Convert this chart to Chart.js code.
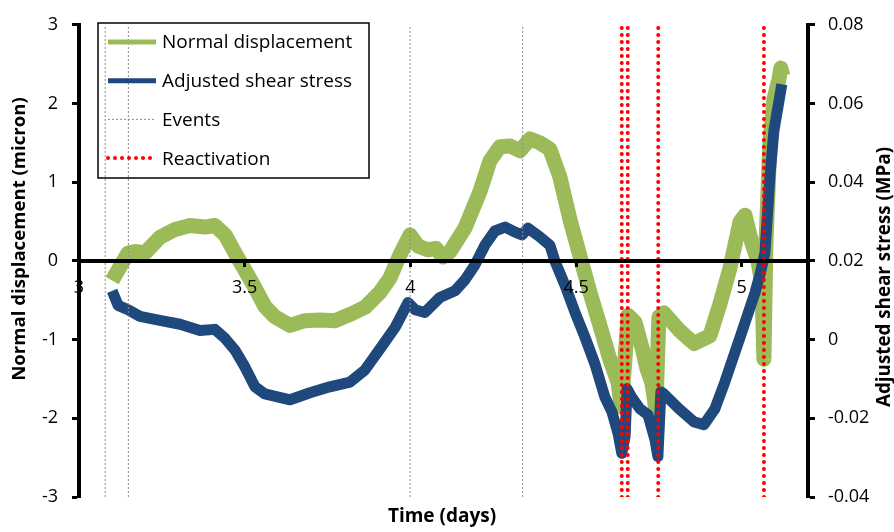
<!DOCTYPE html>
<html>
<head>
<meta charset="utf-8">
<script src="https://cdn.jsdelivr.net/npm/chart.js@4.4.1/dist/chart.umd.min.js"></script>
<style>
  html, body { margin: 0; padding: 0; background: #fff; }
</style>
</head>
<body>
<canvas id="chart" width="894" height="532"></canvas>
<script>
// Normal displacement (micron), left axis
const normalTime = [3.100, 3.130, 3.148, 3.169, 3.199, 3.244, 3.290, 3.335, 3.380, 3.410,
    3.441, 3.471, 3.501, 3.531, 3.561, 3.591, 3.637, 3.682, 3.727, 3.773,
    3.818, 3.863, 3.908, 3.938, 3.969, 3.999, 4.023, 4.053, 4.077, 4.098,
    4.120, 4.165, 4.210, 4.240, 4.270, 4.301, 4.331, 4.361, 4.391, 4.421,
    4.451, 4.482, 4.512, 4.542, 4.572, 4.602, 4.627, 4.636, 4.645, 4.657,
    4.678, 4.699, 4.714, 4.729, 4.741, 4.750, 4.765, 4.811, 4.856, 4.904,
    4.934, 4.964, 4.995, 5.010, 5.031, 5.049, 5.061, 5.067, 5.073, 5.085,
    5.097, 5.112, 5.118, 5.124];
const normalDisp = [-0.25, -0.03, 0.10, 0.12, 0.10, 0.30, 0.40, 0.45, 0.43, 0.45,
    0.33, 0.10, -0.12, -0.34, -0.58, -0.71, -0.82, -0.76, -0.75, -0.76,
    -0.68, -0.59, -0.40, -0.22, 0.08, 0.33, 0.19, 0.14, 0.16, 0.05,
    0.12, 0.42, 0.88, 1.27, 1.45, 1.46, 1.40, 1.55, 1.50, 1.42,
    1.07, 0.52, 0.06, -0.40, -0.82, -1.25, -1.55, -1.85, -1.40, -0.69,
    -0.78, -1.10, -1.37, -1.55, -1.89, -0.71, -0.66, -0.88, -1.05, -0.95,
    -0.55, -0.10, 0.50, 0.58, 0.22, 0.00, -0.30, -1.25, 0.20, 1.50,
    2.05, 2.30, 2.45, 2.35];

// Adjusted shear stress (MPa), right axis
const shearTime = [3.100, 3.118, 3.148, 3.184, 3.244, 3.305, 3.365, 3.410, 3.441, 3.471,
    3.501, 3.531, 3.561, 3.637, 3.697, 3.757, 3.818, 3.863, 3.908, 3.954,
    3.993, 4.014, 4.044, 4.089, 4.135, 4.165, 4.195, 4.225, 4.255, 4.286,
    4.316, 4.337, 4.355, 4.391, 4.421, 4.436, 4.467, 4.497, 4.527, 4.557,
    4.587, 4.608, 4.627, 4.638, 4.648, 4.654, 4.669, 4.693, 4.717, 4.738,
    4.747, 4.756, 4.765, 4.811, 4.856, 4.886, 4.919, 4.949, 4.995, 5.040,
    5.055, 5.070, 5.085, 5.097, 5.121];
const shearStress = [0.0124, 0.0087, 0.0076, 0.0059, 0.0049, 0.0039, 0.0023, 0.0026, 0.0003, -0.0027,
    -0.0070, -0.0120, -0.0138, -0.0153, -0.0135, -0.0120, -0.0108, -0.0077, -0.0024, 0.0031,
    0.0094, 0.0076, 0.0069, 0.0107, 0.0124, 0.0152, 0.0190, 0.0240, 0.0276, 0.0286,
    0.0273, 0.0266, 0.0283, 0.0261, 0.0240, 0.0200, 0.0137, 0.0069, 0.0006, -0.0062,
    -0.0146, -0.0183, -0.0239, -0.0289, -0.0246, -0.0125, -0.0148, -0.0176, -0.0191, -0.0254,
    -0.0297, -0.0133, -0.0138, -0.0176, -0.0209, -0.0216, -0.0176, -0.0108, 0.0006, 0.0119,
    0.0165, 0.0220, 0.0414, 0.0530, 0.0649];

// vertical markers (days)
const eventDays = [3.079, 3.149, 3.999, 4.339];
const reactivationDays = [4.638, 4.656, 4.748, 5.067];

// axis ranges / ticks
const xTicks = { min: 3, max: 5.2, step: 0.5 };
const leftTicks = { min: -3, max: 3, step: 1 };
const rightTicks = { min: -0.04, max: 0.08, step: 0.02 };

const FONT = '"Open Sans", "Noto Sans", sans-serif';

function toPoints(xs, ys) {
    return xs.map((x, i) => ({ x: x, y: ys[i] }));
}

// each marker is a vertical segment over the full left axis, split by gaps
function verticalLines(days) {
    const pts = [];
    days.forEach(d => {
        pts.push({ x: d, y: leftTicks.min }, { x: d, y: leftTicks.max }, { x: d, y: null });
    });
    return pts;
}

// legend drawn inside the plot, like the original
const legendBox = {
    id: 'legendBox',
    afterDraw(chart) {
        const ctx = chart.ctx;
        const ds = chart.data.datasets;
        const items = [ds[3], ds[2], ds[1], ds[0]];
        ctx.save();
        ctx.strokeStyle = '#000';
        ctx.lineWidth = 1.5;
        ctx.strokeRect(98, 23, 271, 155);
        items.forEach((d, i) => {
            const y = 42 + i * 38.7;
            ctx.beginPath();
            ctx.strokeStyle = d.borderColor;
            ctx.lineWidth = d.legendWidth;
            ctx.lineCap = d.borderCapStyle || 'butt';
            ctx.setLineDash(d.borderDash || []);
            ctx.moveTo(108, y);
            ctx.lineTo(156, y);
            ctx.stroke();
            ctx.setLineDash([]);
            ctx.fillStyle = '#000';
            ctx.font = '19px ' + FONT;
            ctx.textBaseline = 'middle';
            ctx.fillText(d.label, 162, y + 1);
        });
        ctx.restore();
    }
};

// axis titles (both vertical ones read bottom-to-top, as in the original)
const axisTitles = {
    id: 'axisTitles',
    afterDraw(chart) {
        const ctx = chart.ctx;
        const specs = [
            { text: 'Normal displacement (micron)', x: 20, y: 239, rot: -Math.PI / 2, span: 284 },
            { text: 'Adjusted shear stress (MPa)', x: 885, y: 277, rot: -Math.PI / 2, span: 260 },
            { text: 'Time (days)', x: 442, y: 517, rot: 0, span: 108 }
        ];
        specs.forEach(s => {
            ctx.save();
            ctx.font = 'bold 17px ' + FONT;
            const size = 17 * s.span / ctx.measureText(s.text).width;
            ctx.font = 'bold ' + size.toFixed(1) + 'px ' + FONT;
            ctx.fillStyle = '#000';
            ctx.textAlign = 'center';
            ctx.textBaseline = 'middle';
            ctx.translate(s.x, s.y);
            ctx.rotate(s.rot);
            ctx.fillText(s.text, 0, 0);
            ctx.restore();
        });
    }
};

const tickFont = { family: FONT, size: 18 };

new Chart(document.getElementById('chart'), {
    type: 'line',
    data: {
        datasets: [
            {
                label: 'Reactivation',
                data: verticalLines(reactivationDays),
                yAxisID: 'y',
                borderColor: '#FF0000',
                borderWidth: 4,
                borderDash: [0, 7],
                borderCapStyle: 'round',
                legendWidth: 4,
                pointRadius: 0,
                spanGaps: false
            },
            {
                label: 'Events',
                data: verticalLines(eventDays),
                yAxisID: 'y',
                borderColor: '#8c8c8c',
                borderWidth: 1,
                borderDash: [2, 2],
                legendWidth: 1,
                pointRadius: 0,
                spanGaps: false
            },
            {
                label: 'Adjusted shear stress',
                data: toPoints(shearTime, shearStress),
                yAxisID: 'y1',
                borderColor: '#1F497D',
                borderWidth: 11,
                borderJoinStyle: 'round',
                legendWidth: 5,
                pointRadius: 0
            },
            {
                label: 'Normal displacement',
                data: toPoints(normalTime, normalDisp),
                yAxisID: 'y',
                borderColor: '#9BBB59',
                borderWidth: 15,
                borderJoinStyle: 'round',
                legendWidth: 5,
                pointRadius: 0
            }
        ]
    },
    options: {
        responsive: false,
        animation: false,
        layout: { padding: { top: 20, left: 0, right: 0, bottom: 0 } },
        plugins: { legend: { display: false }, tooltip: { enabled: false } },
        scales: {
            x: {
                type: 'linear',
                min: xTicks.min,
                max: xTicks.max,
                position: { y: 0 },
                border: { color: '#000', width: 4, z: 1 },
                grid: { drawOnChartArea: false, tickLength: 4, tickColor: '#000', tickWidth: 3, z: 1 },
                ticks: {
                    stepSize: xTicks.step, includeBounds: false, padding: 12, color: '#000', font: tickFont, maxRotation: 0, z: 1,
                    callback: v => String(v)
                }
            },
            x2: {
                type: 'linear',
                min: xTicks.min,
                max: xTicks.max,
                position: 'bottom',
                grid: { display: false },
                border: { display: false },
                ticks: { display: false },
                afterFit: s => { s.height = 35; }
            },
            y: {
                position: 'left',
                min: leftTicks.min,
                max: leftTicks.max,
                border: { color: '#000', width: 4 },
                grid: { drawOnChartArea: false, tickLength: 7, tickColor: '#000', tickWidth: 3 },
                ticks: { stepSize: leftTicks.step, padding: 14, color: '#000', font: tickFont },
                afterFit: s => { s.width = 79; }
            },
            y1: {
                position: 'right',
                min: rightTicks.min,
                max: rightTicks.max,
                border: { color: '#000', width: 4 },
                grid: { drawOnChartArea: false, tickLength: 7, tickColor: '#000', tickWidth: 3 },
                ticks: {
                    stepSize: rightTicks.step, padding: 13, color: '#000', font: tickFont,
                    callback: v => Math.abs(v) < 1e-9 ? '0' : v.toFixed(2)
                },
                afterFit: s => { s.width = 86; }
            }
        }
    },
    plugins: [legendBox, axisTitles]
});
</script>
</body>
</html>
